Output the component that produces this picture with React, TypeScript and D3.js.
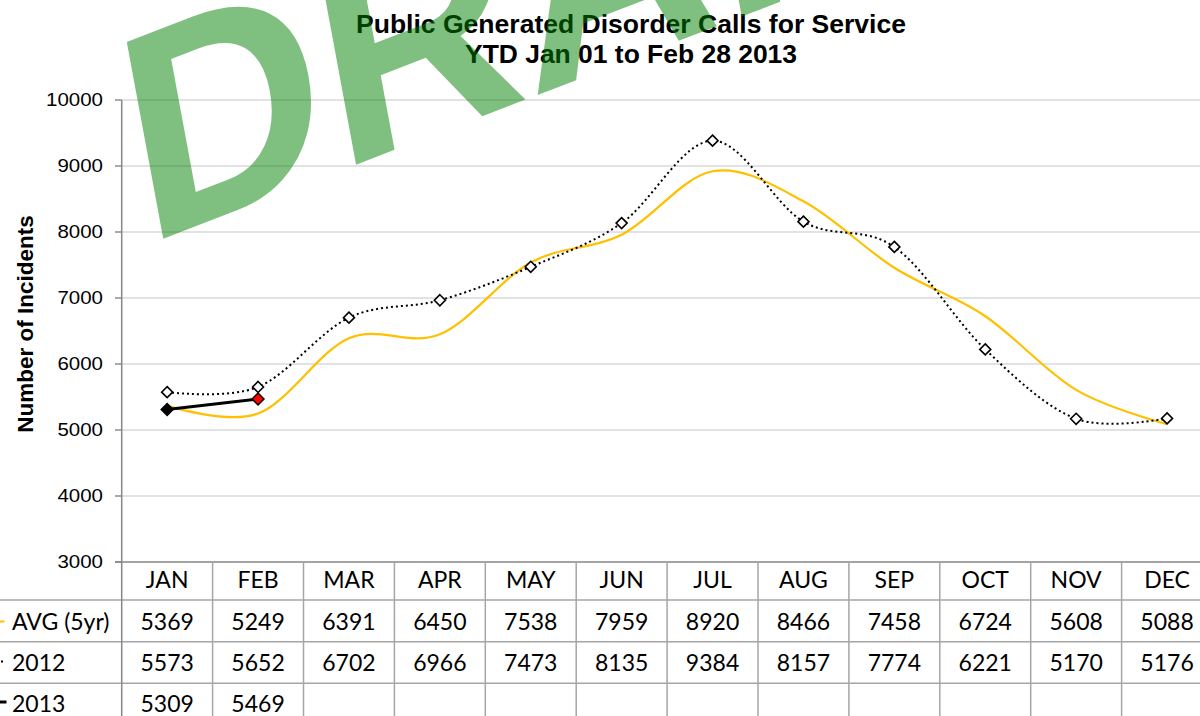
import React from 'react';
import * as d3 from 'd3';

const months = ['JAN', 'FEB', 'MAR', 'APR', 'MAY', 'JUN', 'JUL', 'AUG', 'SEP', 'OCT', 'NOV', 'DEC'];
const avg5yr = [5369, 5249, 6391, 6450, 7538, 7959, 8920, 8466, 7458, 6724, 5608, 5088];
const y2012 = [5573, 5652, 6702, 6966, 7473, 8135, 9384, 8157, 7774, 6221, 5170, 5176];
const y2013 = [5309, 5469];
const yTicks = [3000, 4000, 5000, 6000, 7000, 8000, 9000, 10000];
const seriesNames = ['AVG (5yr)', '2012', '2013'];
const titleLines = ['Public Generated Disorder Calls for Service', 'YTD Jan 01 to Feb 28 2013'];

const W = 1200;
const H = 716;
const plotLeft = 121.7;
const bandW = 90.9;
const plotTop = 100;
const plotBottom = 562;
const rowTops = [562, 600, 641.7, 683.3];
const rowBaselines = [588, 630, 671, 712];

const x = d3.scaleBand<string>().domain(months).range([plotLeft, plotLeft + bandW * months.length]).padding(0);
const cx = (m: string) => (x(m) as number) + x.bandwidth() / 2;
const y = d3.scaleLinear().domain([3000, 10000]).range([plotBottom, plotTop]);

const smooth = d3
  .line<number>()
  .x((_, i) => cx(months[i]))
  .y((v) => y(v))
  .curve(d3.curveCardinal.tension(0));
const straight = d3
  .line<number>()
  .x((_, i) => cx(months[i]))
  .y((v) => y(v));

const diamond = (r: number) => `M0,${-r}L${r},0L0,${r}L${-r},0Z`;

const ARIAL = "'Liberation Sans', Arial, sans-serif";
const TABLE_FONT = "Lato, 'Open Sans', sans-serif";
const lineGray = '#a6a6a6';

export default function App() {
  const tableRows = [avg5yr, y2012, y2013];
  return (
    <svg width={W} height={H} style={{ position: 'absolute', left: 0, top: 0, display: 'block', background: '#fff' }}>
      <rect x={0} y={0} width={W} height={H} fill="#fff" />
      {/* gridlines */}
      {yTicks.filter((t) => t > 3000).map((t) => (
        <line key={'g' + t} x1={plotLeft} x2={W} y1={y(t)} y2={y(t)} stroke="#d9d9d9" strokeWidth={1.6} />
      ))}
      {/* y ticks + labels */}
      {yTicks.map((t) => (
        <g key={'t' + t}>
          <line x1={115} x2={plotLeft} y1={y(t)} y2={y(t)} stroke="#868686" strokeWidth={1.4} />
          <text
            transform={`translate(103,${y(t) + 6.2}) scale(1.17,1)`}
            textAnchor="end"
            fontFamily={ARIAL}
            fontSize={17.5}
            fill="#000"
          >
            {t}
          </text>
        </g>
      ))}
      {/* y axis title */}
      <text
        transform="translate(32.5,324) rotate(-90)"
        textAnchor="middle"
        fontFamily={ARIAL}
        fontWeight="bold"
        fontSize={22.5}
        fill="#000"
      >
        Number of Incidents
      </text>
      {/* table lines */}
      <line x1={115} x2={W} y1={rowTops[0]} y2={rowTops[0]} stroke="#868686" strokeWidth={1.5} />
      {rowTops.slice(1).map((ry, i) => (
        <line key={'r' + i} x1={0} x2={W} y1={ry} y2={ry} stroke={lineGray} strokeWidth={1.5} />
      ))}
      <line x1={plotLeft} x2={plotLeft} y1={plotTop} y2={H} stroke="#868686" strokeWidth={1.5} />
      {months.map((m) => (
        <line
          key={'v' + m}
          x1={(x(m) as number) + bandW}
          x2={(x(m) as number) + bandW}
          y1={rowTops[0]}
          y2={H}
          stroke={lineGray}
          strokeWidth={1.5}
        />
      ))}
      {/* header */}
      {months.map((m) => (
        <text key={'h' + m} x={cx(m)} y={rowBaselines[0]} textAnchor="middle" fontFamily={TABLE_FONT} fontSize={23} fill="#000">
          {m}
        </text>
      ))}
      {/* table values */}
      {tableRows.map((row, ri) =>
        row.map((v, i) => (
          <text
            key={'c' + ri + '-' + i}
            x={cx(months[i])}
            y={rowBaselines[ri + 1]}
            textAnchor="middle"
            fontFamily={TABLE_FONT}
            fontSize={23}
            fill="#000"
          >
            {v}
          </text>
        ))
      )}
      {/* row labels + legend keys */}
      {seriesNames.map((s, i) => (
        <text key={'s' + s} x={12} y={rowBaselines[i + 1]} fontFamily={TABLE_FONT} fontSize={23} fill="#000">
          {s}
        </text>
      ))}
      <line x1={-10} x2={4.5} y1={621.5} y2={621.5} stroke="#FFC000" strokeWidth={2} />
      <line x1={-10} x2={3} y1={661.5} y2={661.5} stroke="#000" strokeWidth={1.8} strokeDasharray="2 3" strokeDashoffset={-1} />
      <line x1={-10} x2={6.5} y1={702} y2={702} stroke="#000" strokeWidth={3} />
      {/* series lines */}
      <path d={smooth(avg5yr) || ''} fill="none" stroke="#FFC000" strokeWidth={2.2} />
      <path d={smooth(y2012) || ''} fill="none" stroke="#000" strokeWidth={2} strokeDasharray="2 3" />
      {y2012.map((v, i) => (
        <path
          key={'m12' + i}
          d={diamond(5.5)}
          transform={`translate(${cx(months[i])},${y(v)})`}
          fill="#fff"
          stroke="#000"
          strokeWidth={1.6}
        />
      ))}
      <path d={straight(y2013) || ''} fill="none" stroke="#000" strokeWidth={3} />
      {y2013.map((v, i) => (
        <path
          key={'m13' + i}
          d={diamond(6)}
          transform={`translate(${cx(months[i])},${y(v)})`}
          fill={i === y2013.length - 1 ? '#ff0000' : '#000'}
          stroke="#000"
          strokeWidth={1.4}
        />
      ))}
      {/* title */}
      <text
        x={631}
        y={33}
        textAnchor="middle"
        fontFamily={ARIAL}
        fontWeight="bold"
        fontSize={26}
        fill="#000"
        textLength={550}
        lengthAdjust="spacingAndGlyphs"
      >
        {titleLines[0]}
      </text>
      <text
        x={631}
        y={63}
        textAnchor="middle"
        fontFamily={ARIAL}
        fontWeight="bold"
        fontSize={26}
        fill="#000"
        textLength={332}
        lengthAdjust="spacingAndGlyphs"
      >
        {titleLines[1]}
      </text>
      {/* watermark */}
      <text
        transform="translate(145.4,245.5) rotate(-21) skewX(-10.5)"
        fontFamily={ARIAL}
        fontWeight="bold"
        fontSize={286}
        fill="rgb(0,128,0)"
        fillOpacity={0.5}
      >
        DRAFT
      </text>
    </svg>
  );
}
